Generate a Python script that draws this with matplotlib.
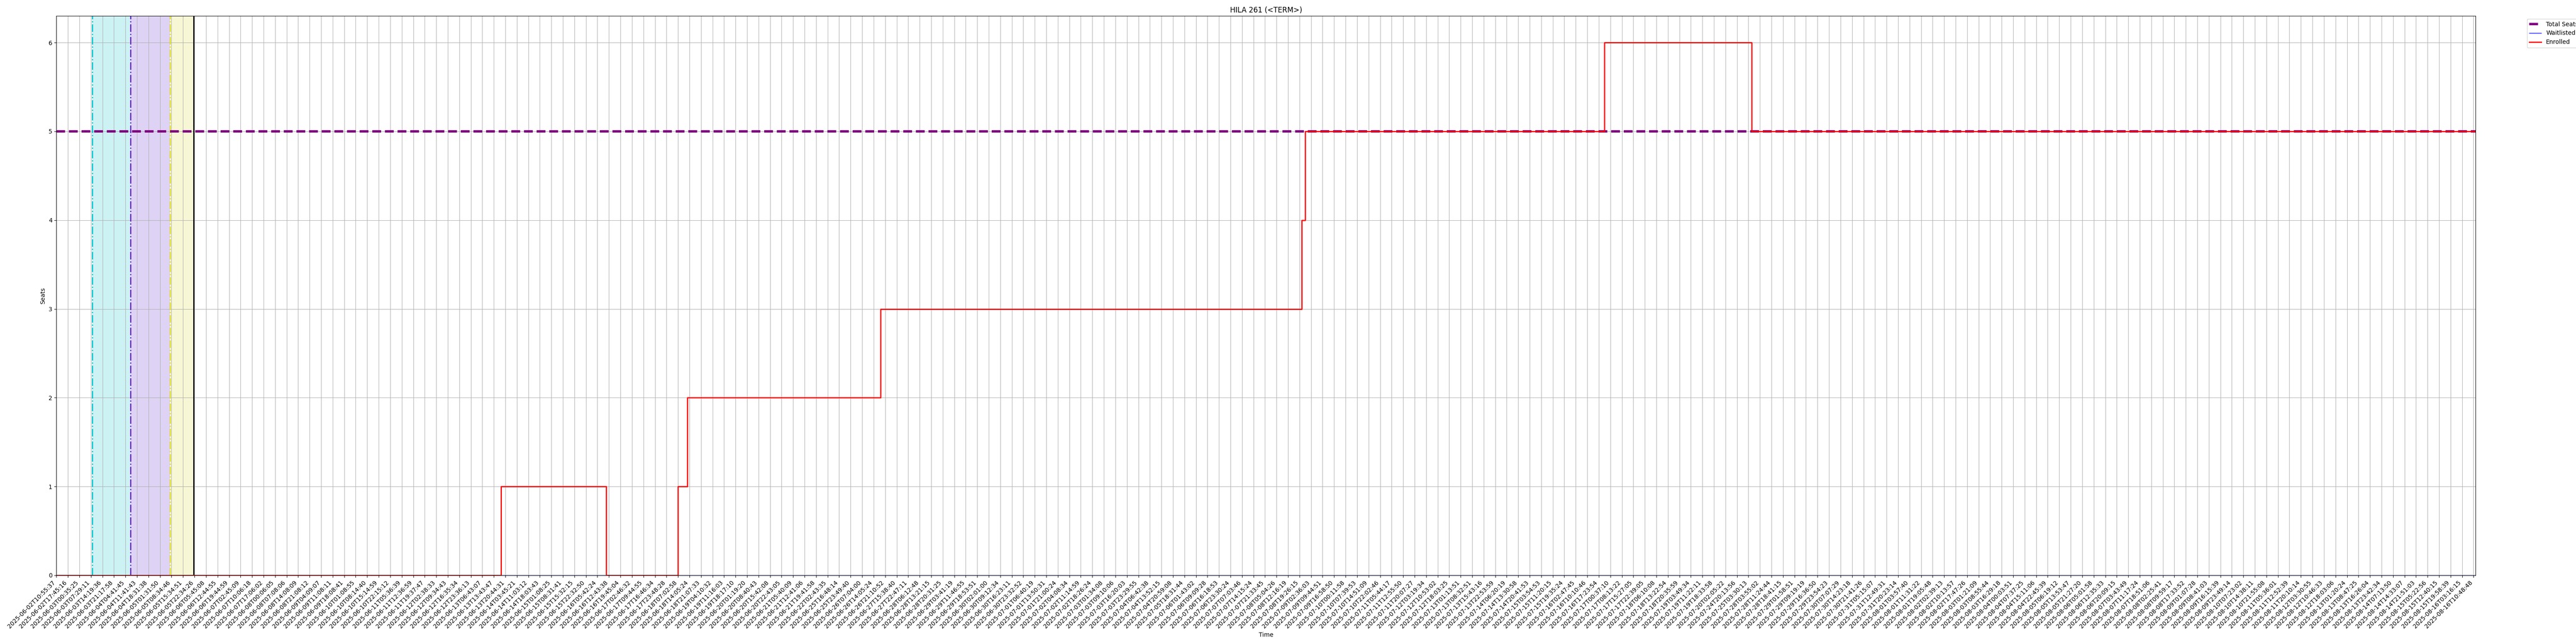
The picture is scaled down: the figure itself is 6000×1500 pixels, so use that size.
import matplotlib
matplotlib.use("Agg")
import matplotlib.pyplot as plt

# ---- data -------------------------------------------------------------
title = "HILA 261 (<TERM>)"

tick_labels = [
    "2025-06-02T10:55:37", "2025-06-02T17:45:16", "2025-06-03T00:35:25", "2025-06-03T07:29:11",
    "2025-06-03T14:19:36", "2025-06-03T21:17:58", "2025-06-04T04:41:45", "2025-06-04T11:41:43",
    "2025-06-04T18:31:38", "2025-06-05T01:31:50", "2025-06-05T08:34:46", "2025-06-05T15:34:51",
    "2025-06-05T22:34:26", "2025-06-06T05:45:08", "2025-06-06T12:44:55", "2025-06-06T19:44:59",
    "2025-06-07T02:45:09", "2025-06-07T10:06:18", "2025-06-07T17:06:02", "2025-06-08T00:06:05",
    "2025-06-08T07:08:06", "2025-06-08T14:08:09", "2025-06-08T21:08:12", "2025-06-09T04:09:07",
    "2025-06-09T11:08:11", "2025-06-09T18:08:41", "2025-06-10T01:08:55", "2025-06-10T08:14:40",
    "2025-06-10T15:14:59", "2025-06-10T22:15:12", "2025-06-11T05:36:39", "2025-06-11T12:36:59",
    "2025-06-11T19:37:47", "2025-06-12T02:38:33", "2025-06-12T09:34:43", "2025-06-12T16:35:34",
    "2025-06-12T23:36:13", "2025-06-13T06:43:07", "2025-06-13T13:43:47", "2025-06-13T20:44:31",
    "2025-06-14T03:45:21", "2025-06-14T11:03:12", "2025-06-14T18:03:43", "2025-06-15T01:08:25",
    "2025-06-15T08:31:41", "2025-06-15T15:32:15", "2025-06-15T22:32:50", "2025-06-16T05:42:24",
    "2025-06-16T12:43:38", "2025-06-16T19:45:04", "2025-06-17T02:46:32", "2025-06-17T09:44:55",
    "2025-06-17T16:46:34", "2025-06-17T23:48:28", "2025-06-18T07:02:58", "2025-06-18T14:05:24",
    "2025-06-18T21:07:33", "2025-06-19T04:10:32", "2025-06-19T11:16:03", "2025-06-19T18:17:10",
    "2025-06-20T01:19:20", "2025-06-20T08:40:43", "2025-06-20T15:42:08", "2025-06-20T22:43:05",
    "2025-06-21T05:40:09", "2025-06-21T12:41:06", "2025-06-21T19:41:58", "2025-06-22T02:43:35",
    "2025-06-25T16:48:14", "2025-06-25T23:49:40", "2025-06-26T07:04:00", "2025-06-26T14:05:24",
    "2025-06-26T21:10:52", "2025-06-27T15:38:40", "2025-06-27T22:47:11", "2025-06-28T06:12:48",
    "2025-06-28T13:21:15", "2025-06-28T20:31:25", "2025-06-29T03:41:19", "2025-06-29T11:46:55",
    "2025-06-29T18:53:51", "2025-06-30T02:01:00", "2025-06-30T09:12:34", "2025-06-30T16:23:11",
    "2025-06-30T23:32:52", "2025-07-01T06:40:19", "2025-07-01T13:50:31", "2025-07-01T21:00:24",
    "2025-07-02T04:08:34", "2025-07-02T11:14:59", "2025-07-02T18:26:24", "2025-07-03T01:34:08",
    "2025-07-03T09:10:06", "2025-07-03T16:20:03", "2025-07-03T23:29:55", "2025-07-04T06:42:38",
    "2025-07-04T13:52:15", "2025-07-04T20:59:08", "2025-07-05T18:31:44", "2025-07-06T01:43:02",
    "2025-07-06T09:09:28", "2025-07-06T16:18:53", "2025-07-06T23:30:24", "2025-07-07T07:03:46",
    "2025-07-07T14:15:24", "2025-07-07T21:33:45", "2025-07-08T05:04:26", "2025-07-08T12:16:19",
    "2025-07-08T19:26:15", "2025-07-09T02:36:03", "2025-07-09T09:44:51", "2025-07-09T16:58:50",
    "2025-07-10T00:11:58", "2025-07-10T07:39:53", "2025-07-10T14:51:09", "2025-07-10T22:02:46",
    "2025-07-11T05:44:17", "2025-07-11T12:55:50", "2025-07-11T20:07:27", "2025-07-12T03:19:34",
    "2025-07-12T10:53:02", "2025-07-12T18:03:25", "2025-07-13T01:13:51", "2025-07-13T08:32:51",
    "2025-07-13T15:43:16", "2025-07-13T22:53:59", "2025-07-14T06:20:19", "2025-07-14T13:30:58",
    "2025-07-14T20:41:53", "2025-07-15T03:54:53", "2025-07-15T11:20:15", "2025-07-15T19:35:24",
    "2025-07-16T02:47:45", "2025-07-16T10:10:46", "2025-07-16T17:23:54", "2025-07-17T00:37:10",
    "2025-07-17T08:13:22", "2025-07-17T15:27:05", "2025-07-17T22:39:05", "2025-07-18T06:10:08",
    "2025-07-18T13:22:54", "2025-07-18T20:35:59", "2025-07-19T03:49:34", "2025-07-19T11:22:11",
    "2025-07-19T18:33:58", "2025-07-20T02:05:22", "2025-07-24T20:13:56", "2025-07-25T03:30:13",
    "2025-07-28T03:55:02", "2025-07-28T11:24:44", "2025-07-28T18:41:15", "2025-07-29T01:58:51",
    "2025-07-29T09:19:19", "2025-07-29T16:36:50", "2025-07-29T23:54:23", "2025-07-30T07:07:29",
    "2025-07-30T14:23:18", "2025-07-30T21:41:26",
    # labels 158-190: too small to read at the resolution available; approximate
    "2025-07-31T05:15:07", "2025-07-31T12:49:31", "2025-07-31T20:23:14", "2025-08-01T03:57:40",
    "2025-08-01T11:31:22", "2025-08-01T19:05:48", "2025-08-02T02:39:13", "2025-08-02T10:13:57",
    "2025-08-02T17:47:26", "2025-08-03T01:21:09", "2025-08-03T08:55:44", "2025-08-03T16:29:18",
    "2025-08-04T00:03:51", "2025-08-04T07:37:25", "2025-08-04T15:11:06", "2025-08-04T22:45:39",
    "2025-08-05T06:19:12", "2025-08-05T13:53:47", "2025-08-05T21:27:20", "2025-08-06T05:01:58",
    "2025-08-06T12:35:33", "2025-08-06T20:09:15", "2025-08-07T03:43:49", "2025-08-07T11:17:24",
    "2025-08-07T18:51:06", "2025-08-08T02:25:41", "2025-08-08T09:59:17", "2025-08-08T17:33:52",
    "2025-08-09T01:07:28", "2025-08-09T08:41:03", "2025-08-09T16:15:39", "2025-08-09T23:49:14",
    "2025-08-10T07:23:02",
    "2025-08-10T14:38:11",
    "2025-08-10T21:55:08", "2025-08-11T05:36:01", "2025-08-11T12:52:39", "2025-08-11T20:10:14",
    "2025-08-12T03:30:55", "2025-08-12T10:46:33", "2025-08-12T18:03:06", "2025-08-13T01:20:24",
    "2025-08-13T08:47:25", "2025-08-13T16:26:04", "2025-08-13T23:42:34", "2025-08-14T07:13:50",
    "2025-08-14T14:33:07", "2025-08-14T21:51:03", "2025-08-15T05:22:56", "2025-08-15T12:40:15",
    "2025-08-15T19:58:39", "2025-08-16T03:16:15", "2025-08-16T10:48:48",
]

# x positions are in tick-label units (label i sits at position i)
x_end = 210.17
seats_x = [0.0, x_end]
seats_total = [5, 5]
wait_x = [0.0, x_end]
waitlisted = [0, 0]
enroll_x = [0.0, 38.64, 47.77, 54.0, 54.8, 71.6, 108.2, 108.5, 134.5, 147.3, x_end]
enrolled = [0, 1, 0, 1, 2, 3, 4, 5, 6, 5, 5]

phase_x = [3.11, 6.45, 9.88, 11.91]

# ---- plot -------------------------------------------------------------
fig, ax = plt.subplots(figsize=(60, 15), dpi=100)
fig.subplots_adjust(left=0.0219, right=0.961, top=0.9753, bottom=0.1067)

ax.axvspan(phase_x[0], phase_x[1], color="#00bfc8", alpha=0.2, lw=0)
ax.axvspan(phase_x[1], phase_x[2], color="#9370db", alpha=0.3, lw=0)
ax.axvspan(phase_x[2], phase_x[3], color="#d8d830", alpha=0.2, lw=0)
ax.axvline(phase_x[0], color="#00c5d0", ls="-.", lw=2)
ax.axvline(phase_x[1], color="#6a1fd6", ls="-.", lw=2)
ax.axvline(phase_x[2], color="#e0e020", ls="-.", lw=2)
ax.axvline(phase_x[3], color="black", ls="-", lw=2)

ax.plot(seats_x, seats_total, color="purple", ls="--", lw=4, label="Total Seats")
ax.step(wait_x, waitlisted, where="post", color="blue", lw=1, label="Waitlisted")
ax.step(enroll_x, enrolled, where="post", color="red", lw=2, label="Enrolled")

ax.set_xticks(range(len(tick_labels)))
ax.set_xticklabels(tick_labels, rotation=45, ha="right")
ax.set_xlim(0, x_end)
ax.set_ylim(0, 6.3)
ax.set_yticks(range(0, 7))
ax.grid(True)
ax.set_title(title)
ax.set_xlabel("Time")
ax.set_ylabel("Seats")
ax.legend(loc="upper left", bbox_to_anchor=(1.02, 1))

fig.savefig("out.png", dpi=100)
